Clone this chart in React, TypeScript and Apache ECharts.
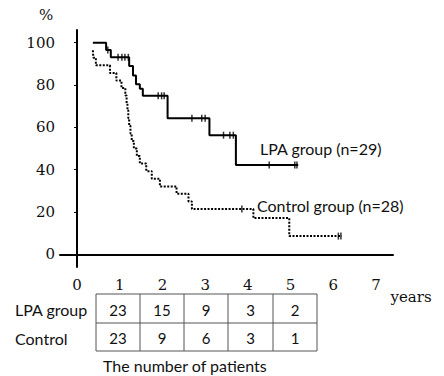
import React, { useEffect, useRef } from "react";
import * as echarts from "echarts";

const yTicks = [0, 20, 40, 60, 80, 100];
const xTicks = [0, 1, 2, 3, 4, 5, 6, 7];

const lpaTimes = [0.37, 0.68, 0.79, 1.22, 1.31, 1.38, 1.47, 1.54, 2.12, 3.1, 3.72, 5.18];
const lpaSurv = [100, 96.6, 93.1, 89.0, 84.5, 80.4, 78.2, 74.9, 64.3, 56.3, 42.2, 42.2];
const lpaCensorTimes = [0.72, 0.96, 1.05, 1.12, 1.2, 1.9, 1.98, 2.04, 2.69, 2.92, 3.0, 3.43, 3.58, 3.66, 4.5, 5.1, 5.15];

const ctlTimes = [0.37, 0.38, 0.44, 0.77, 0.92, 1.04, 1.13, 1.16, 1.18, 1.2, 1.22, 1.25, 1.28, 1.33, 1.4, 1.47, 1.62, 1.75, 1.94, 2.33, 2.61, 2.69, 4.13, 4.97, 6.2];
const ctlSurv = [96.4, 92.9, 89.3, 85.7, 82.1, 78.6, 75.0, 71.4, 67.9, 64.3, 60.7, 57.1, 53.6, 50.0, 46.4, 42.9, 39.3, 35.7, 32.1, 28.6, 25.0, 21.4, 17.1, 8.6, 8.6];
const ctlCensorTimes = [3.86, 6.12, 6.18];

const tableRowLabels = ["LPA group", "Control"];
const lpaCounts = [23, 15, 9, 3, 2];
const ctlCounts = [23, 9, 6, 3, 1];

function survAt(times: number[], surv: number[], t: number) {
  let v = surv[0];
  for (let i = 0; i < times.length; i++) if (times[i] <= t) v = surv[i];
  return v;
}

export default function App() {
  const ref = useRef<HTMLDivElement>(null);
  useEffect(() => {
    if (!ref.current) return;
    const chart = echarts.init(ref.current, null, { renderer: "svg" });
    const serif = "DejaVu Serif";
    const sans = "Lato";

    const tableX = [96, 140, 184, 228, 273, 317];
    const tableY = [294, 323, 351];
    const g: any[] = [];
    tableY.forEach((y) =>
      g.push({ type: "line", shape: { x1: tableX[0], y1: y, x2: tableX[5], y2: y }, style: { stroke: "#555", lineWidth: 1 } })
    );
    tableX.forEach((x) =>
      g.push({ type: "line", shape: { x1: x, y1: tableY[0], x2: x, y2: tableY[2] }, style: { stroke: "#555", lineWidth: 1 } })
    );
    [lpaCounts, ctlCounts].forEach((row, r) => {
      row.forEach((n, c) =>
        g.push({
          type: "text",
          x: (tableX[c] + tableX[c + 1]) / 2,
          y: (tableY[r] + tableY[r + 1]) / 2 + 1,
          style: { text: String(n), fontFamily: sans, fontSize: 15, fill: "#111", align: "center", verticalAlign: "middle" },
        })
      );
      g.push({
        type: "text",
        x: 15,
        y: (tableY[r] + tableY[r + 1]) / 2 + 1,
        style: { text: tableRowLabels[r], fontFamily: sans, fontSize: 16, fill: "#111", align: "left", verticalAlign: "middle" },
      });
    });
    g.push({ type: "text", x: 103, y: 365, style: { text: "The number of patients", fontFamily: sans, fontSize: 16, fill: "#111", align: "left", verticalAlign: "middle" } });
    g.push({ type: "text", x: 260, y: 148, style: { text: "LPA group (n=29)", fontFamily: sans, fontSize: 16, fill: "#111", align: "left", verticalAlign: "middle" } });
    g.push({ type: "text", x: 257, y: 205, style: { text: "Control group (n=28)", fontFamily: sans, fontSize: 16, fill: "#111", align: "left", verticalAlign: "middle" } });
    g.push({ type: "text", x: 46, y: 15, style: { text: "%", fontFamily: serif, fontSize: 15, fill: "#111", align: "center", verticalAlign: "middle" } });
    g.push({ type: "text", x: 411, y: 297, style: { text: "years", fontFamily: serif, fontSize: 15, fill: "#111", align: "center", verticalAlign: "middle" } });

    chart.setOption({
      animation: false,
      grid: { left: 60, right: 51, top: 30, bottom: 109 },
      xAxis: {
        type: "value",
        min: -0.4,
        max: 7.4,
        splitLine: { show: false },
        axisLine: { show: true, lineStyle: { color: "#000", width: 2 } },
        axisTick: { show: false },
        axisLabel: { customValues: xTicks, margin: 10, fontFamily: serif, fontSize: 15, color: "#111" },
      },
      yAxis: {
        type: "value",
        min: -6,
        max: 106,
        splitLine: { show: false },
        axisLine: { show: true, lineStyle: { color: "#000", width: 2 } },
        axisTick: { show: true, customValues: yTicks, length: 3, lineStyle: { color: "#000", width: 1 } },
        axisLabel: { customValues: yTicks, margin: 5, fontFamily: serif, fontSize: 15, color: "#111" },
      },
      series: [
        {
          type: "line",
          step: "end",
          symbol: "none",
          data: lpaTimes.map((t, i) => [t, lpaSurv[i]]),
          lineStyle: { color: "#000", width: 2 },
        },
        {
          type: "line",
          step: "end",
          symbol: "none",
          data: ctlTimes.map((t, i) => [t, ctlSurv[i]]),
          lineStyle: { color: "#000", width: 2, type: [2, 1.5] },
        },
        {
          type: "scatter",
          symbol: "rect",
          symbolSize: [1.5, 7],
          itemStyle: { color: "#000" },
          data: lpaCensorTimes.map((t) => [t, survAt(lpaTimes, lpaSurv, t)]),
        },
        {
          type: "scatter",
          symbol: "rect",
          symbolSize: [1.5, 7],
          itemStyle: { color: "#000" },
          data: ctlCensorTimes.map((t) => [t, survAt(ctlTimes, ctlSurv, t)]),
        },
      ],
      graphic: g,
    });
    return () => chart.dispose();
  }, []);
  return <div ref={ref} style={{ width: 444, height: 376, position: "absolute", left: 0, top: 0, background: "#fff" }} />;
}
